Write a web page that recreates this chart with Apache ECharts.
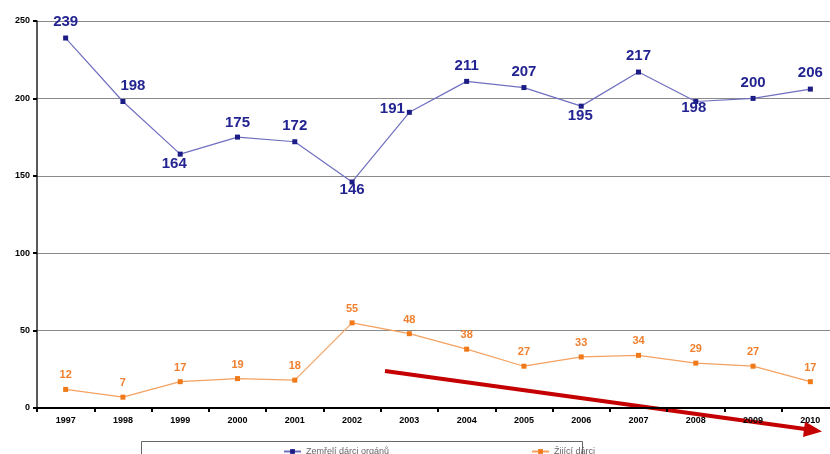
<!DOCTYPE html>
<html>
<head>
<meta charset="utf-8">
<script src="https://cdn.jsdelivr.net/npm/echarts@6/dist/echarts.min.js"></script>
<style>
  html, body { margin: 0; padding: 0; background: #fff; }
  #chart { width: 830px; height: 454px; }
</style>
</head>
<body>
<div id="chart"></div>
<script>
// Dárci orgánů v ČR, 1997–2010
const years = ['1997','1998','1999','2000','2001','2002','2003','2004','2005','2006','2007','2008','2009','2010'];
const deceasedDonors = [239, 198, 164, 175, 172, 146, 191, 211, 207, 195, 217, 198, 200, 206];
const livingDonors = [12, 7, 17, 19, 18, 55, 48, 38, 27, 33, 34, 29, 27, 17];
const seriesNames = ['Zemřelí dárci orgánů', 'Žijící dárci'];

// label placement for the deceased-donor series
const deceasedLabelSide = ['top','top','bottom','top','top','bottom','left','top','top','bottom','top','bottom','top','top'];
const deceasedLabelShift = [[0,0],[10,0],[-6,-6],[0,2],[0,0],[0,-8],[4,-3],[0,0],[0,0],[-1,-6],[0,0],[-2,-10],[0,0],[0,0]];

const FONT = '"Liberation Sans", Arial, sans-serif';

const chart = echarts.init(document.getElementById('chart'), null, { renderer: 'canvas' });

chart.setOption({
  animation: false,
  backgroundColor: '#fff',
  // plot area runs slightly past the right edge of the canvas
  grid: { left: 37, top: 21, width: 802, height: 387, outerBoundsMode: 'none', containLabel: false },
  legend: {
    left: 278,
    top: 442,
    itemGap: 142,
    itemWidth: 17,
    itemHeight: 6,
    textStyle: { fontFamily: FONT, fontSize: 9, color: '#666' },
    data: seriesNames
  },
  xAxis: {
    type: 'category',
    data: years,
    boundaryGap: true,
    axisLine: { lineStyle: { color: '#000', width: 2 } },
    axisTick: { show: true, length: 4, lineStyle: { color: '#000', width: 2 } },
    axisLabel: { fontFamily: FONT, fontSize: 9, fontWeight: 'bold', color: '#000', margin: 8 },
    splitLine: { show: false }
  },
  yAxis: {
    type: 'value',
    min: 0,
    max: 250,
    interval: 50,
    axisLine: { show: true, lineStyle: { color: '#222', width: 1.5 } },
    axisTick: { show: true, length: 4, lineStyle: { color: '#000', width: 2 } },
    axisLabel: { fontFamily: FONT, fontSize: 9, fontWeight: 'bold', color: '#000', margin: 7 },
    splitLine: { show: true, lineStyle: { color: '#8a8a8a', width: 1 } }
  },
  series: [
    {
      name: seriesNames[0],
      type: 'line',
      data: deceasedDonors.map((v, i) => ({
        value: v,
        label: { position: deceasedLabelSide[i], offset: deceasedLabelShift[i] }
      })),
      symbol: 'rect',
      symbolSize: 5,
      itemStyle: { color: '#1c1c86' },
      lineStyle: { color: '#6f6fc0', width: 1.2 },
      label: {
        show: true,
        fontFamily: FONT,
        fontSize: 15,
        fontWeight: 'bold',
        color: '#232391',
        distance: 6
      },
      z: 3
    },
    {
      name: seriesNames[1],
      type: 'line',
      data: livingDonors,
      symbol: 'rect',
      symbolSize: 5,
      itemStyle: { color: '#f07a1a' },
      lineStyle: { color: '#f5a160', width: 1.2 },
      label: {
        show: true,
        position: 'top',
        fontFamily: FONT,
        fontSize: 11,
        fontWeight: 'bold',
        color: '#f08030',
        distance: 6
      },
      z: 3
    }
  ],
  graphic: [
    {
      type: 'rect',
      shape: { x: 141.5, y: 441.5, width: 441, height: 30 },
      style: { fill: 'none', stroke: '#666', lineWidth: 1 },
      z: 1
    },
    {
      type: 'group',
      z: 10,
      children: [
        {
          type: 'line',
          shape: { x1: 385, y1: 371, x2: 805, y2: 429 },
          style: { stroke: '#c40000', lineWidth: 4 }
        },
        {
          type: 'polygon',
          shape: { points: [[822, 431.5], [803, 437], [805, 421.5]] },
          style: { fill: '#c40000' }
        }
      ]
    }
  ]
});
</script>
</body>
</html>
